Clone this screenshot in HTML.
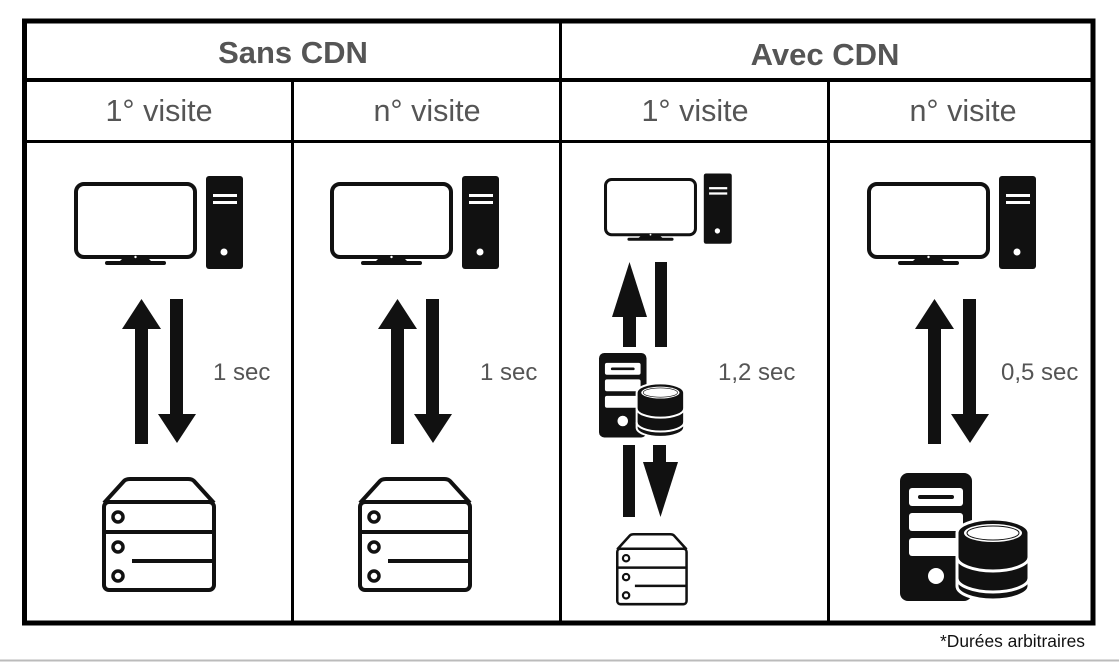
<!DOCTYPE html>
<html><head><meta charset="utf-8"><style>
html,body{margin:0;padding:0;background:#fff;}
svg{display:block;}
text{font-family:"Liberation Sans",sans-serif;}
</style></head><body>
<svg width="1119" height="662" viewBox="0 0 1119 662" xmlns="http://www.w3.org/2000/svg">
<defs>
<g id="pc">
  <rect x="2" y="2" width="119" height="73" rx="8" fill="#fff" stroke="#111" stroke-width="4"/>
  <path d="M50 75 L73 75 L78 80 L45 80 Z" fill="#111"/>
  <rect x="31" y="79" width="61" height="4" rx="2" fill="#111"/>
  <circle cx="61.5" cy="75" r="1.2" fill="#fff"/>
  <rect x="132" y="-6" width="37" height="93" rx="3" fill="#111"/>
  <rect x="139" y="12" width="24" height="3" fill="#fff"/>
  <rect x="139" y="19" width="24" height="3" fill="#fff"/>
  <circle cx="150" cy="70" r="3.5" fill="#fff"/>
</g>
<g id="srv" fill="none" stroke="#111" stroke-width="4">
  <path d="M2 26 L22 4 Q24 2 28 2 L86 2 Q90 2 92 4 L112 26"/>
  <rect x="2" y="25" width="110" height="88" rx="5"/>
  <line x1="2" y1="55" x2="112" y2="55"/>
  <line x1="30" y1="84" x2="112" y2="84"/>
  <circle cx="16" cy="40" r="5" stroke-width="3.5"/>
  <circle cx="16" cy="70" r="5" stroke-width="3.5"/>
  <circle cx="16" cy="99" r="5" stroke-width="3.5"/>
</g>
<g id="db">
  <rect x="0" y="0" width="72" height="128" rx="8" fill="#111"/>
  <rect x="9" y="15" width="54" height="18" rx="3" fill="#fff"/>
  <rect x="18" y="22" width="36" height="4" rx="2" fill="#111"/>
  <rect x="9" y="40" width="54" height="18" rx="3" fill="#fff"/>
  <rect x="9" y="65" width="54" height="18" rx="3" fill="#fff"/>
  <circle cx="36" cy="103" r="8" fill="#fff"/>
  <path d="M57 60 A36 14 0 0 1 129 60 L129 113 A36 14 0 0 1 57 113 Z" fill="#111" stroke="#fff" stroke-width="3"/>
  <ellipse cx="93" cy="60" rx="29" ry="9" fill="#fff"/>
  <ellipse cx="93" cy="60" rx="26" ry="7" fill="#fff" stroke="#111" stroke-width="1"/>
  <path d="M57 84 A36 14 0 0 0 129 84" fill="none" stroke="#fff" stroke-width="3"/>
  <path d="M57 105 A36 14 0 0 0 129 105" fill="none" stroke="#fff" stroke-width="3"/>
</g>
<g id="arr">
  <rect x="135" y="325" width="13" height="119" fill="#111"/>
  <path d="M141.5 299 L161 329 L122 329 Z" fill="#111"/>
  <rect x="170" y="299" width="13" height="120" fill="#111"/>
  <path d="M158 414 L196 414 L177 443 Z" fill="#111"/>
</g>
</defs>

<g fill="none" stroke="#000">
  <rect x="24.5" y="21" width="1068.5" height="602" stroke-width="5"/>
  <line x1="24" y1="80" x2="1093" y2="80" stroke-width="4"/>
  <line x1="24" y1="141.5" x2="1093" y2="141.5" stroke-width="3"/>
  <line x1="560.5" y1="21" x2="560.5" y2="623" stroke-width="3"/>
  <line x1="292.5" y1="80" x2="292.5" y2="623" stroke-width="3"/>
  <line x1="828.5" y1="80" x2="828.5" y2="623" stroke-width="3"/>
</g>
<line x1="0" y1="660.5" x2="1119" y2="660.5" stroke="#bbb" stroke-width="2"/>

<g fill="#555" text-anchor="middle">
  <text x="293" y="63" font-size="31" font-weight="bold">Sans CDN</text>
  <text x="825" y="65" font-size="31" font-weight="bold">Avec CDN</text>
  <text x="159" y="121" font-size="30.5">1° visite</text>
  <text x="427" y="121" font-size="30.5">n° visite</text>
  <text x="695" y="121" font-size="30.5">1° visite</text>
  <text x="963" y="121" font-size="30.5">n° visite</text>
</g>
<g fill="#555" font-size="24">
  <text x="213" y="380">1 sec</text>
  <text x="480" y="380">1 sec</text>
  <text x="718" y="380">1,2 sec</text>
  <text x="1001" y="380">0,5 sec</text>
</g>
<text x="1085" y="647" font-size="17.4" fill="#111" text-anchor="end">*Durées arbitraires</text>

<use href="#pc" transform="translate(74,182)"/>
<use href="#arr"/>
<use href="#srv" transform="translate(102,477)"/>

<use href="#pc" transform="translate(330,182)"/>
<use href="#arr" transform="translate(256,0)"/>
<use href="#srv" transform="translate(358,477)"/>

<use href="#pc" transform="translate(604,178) scale(0.756)"/>
<rect x="623" y="312" width="13" height="35" fill="#111"/>
<path d="M629.5 262 L647 317 L612 317 Z" fill="#111"/>
<rect x="655" y="262" width="12" height="85" fill="#111"/>
<use href="#db" transform="translate(599,353) scale(0.66)"/>
<rect x="623" y="445" width="12" height="72" fill="#111"/>
<rect x="653" y="445" width="13" height="20" fill="#111"/>
<path d="M643 462 L678 462 L660.5 517 Z" fill="#111"/>
<use href="#srv" transform="translate(616,533) scale(0.63)"/>

<use href="#pc" transform="translate(867,182)"/>
<use href="#arr" transform="translate(793,0)"/>
<use href="#db" transform="translate(900,473)"/>
</svg>
</body></html>
